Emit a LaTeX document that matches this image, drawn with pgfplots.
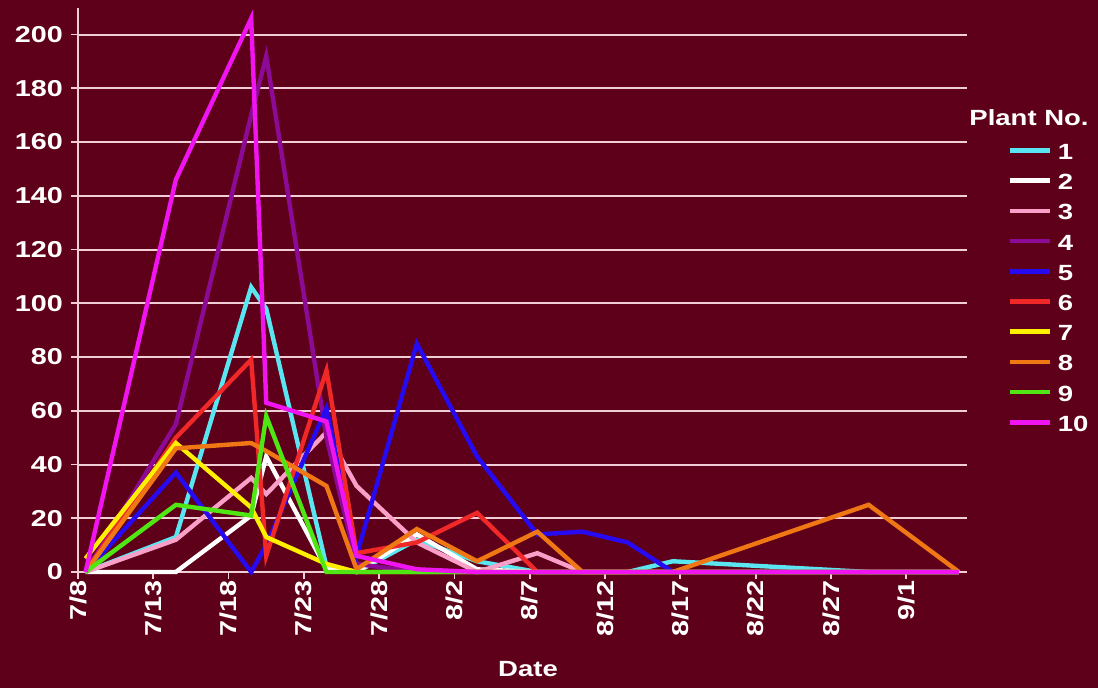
\documentclass[border=0pt]{standalone}
\usepackage{fontspec}
\setmainfont{Liberation Sans}[FakeStretch=1.25]
\usepackage{pgfplots}
\pgfplotsset{compat=1.18}
\definecolor{bg}{RGB}{94,0,26}
\definecolor{gridc}{RGB}{240,205,215}
\definecolor{c1}{RGB}{90,230,240}
\definecolor{c2}{RGB}{255,255,255}
\definecolor{c3}{RGB}{250,160,200}
\definecolor{c4}{RGB}{140,10,150}
\definecolor{c5}{RGB}{40,10,240}
\definecolor{c6}{RGB}{240,40,40}
\definecolor{c7}{RGB}{255,240,0}
\definecolor{c8}{RGB}{240,120,20}
\definecolor{c9}{RGB}{80,230,20}
\definecolor{c10}{RGB}{240,20,240}

% days since 7/8 (+0.5: points centred in the day)
\pgfplotstableread{
x     p1  p2  p3  p4  p5  p6  p7  p8  p9  p10
0.5   0   0   0   0   0   0   5   0   0   0
6.5   13  0   12  55  37  50  48  46  25  146
11.5  106 21  35  170 0   79  24  48  21  206
12.5  98  43  29  192 10  6   13  45  58  63
16.5  2   1   52  50  61  75  3   32  0   56
18.5  0   0   32  3   6   7   0   1   0   6
22.5  12  14  11  0   85  11  0   16  0   1
26.5  4   1   0   0   43  22  0   4   0   0
30.5  0   0   7   0   14  0   0   15  0   0
33.5  0   0   0   0   15  0   0   0   0   0
36.5  0   0   0   0   11  0   0   0   0   0
39.5  4   0   0   0   0   0   0   0   0   0
52.5  0   0   0   0   0   0   0   25  0   0
58.5  0   0   0   0   0   0   0   0   0   0
}\datatable

\begin{document}
\begin{tikzpicture}[x=1pt,y=1pt]
\fill[bg] (0,0) rectangle (1098,688);
\useasboundingbox (0,0) rectangle (1098,688);
\begin{axis}[
  at={(78pt,116pt)}, anchor=south west,
  scale only axis, width=888.5pt, height=564.3pt,
  xmin=0, xmax=59, ymin=0, ymax=210,
  axis x line*=bottom, axis y line*=left,
  axis line style={gridc, line width=1.8pt, -},
  xtick={0,5,...,55},
  xticklabels={7/8,7/13,7/18,7/23,7/28,8/2,8/7,8/12,8/17,8/22,8/27,9/1},
  ytick={0,20,...,200},
  ymajorgrids, grid style={gridc, line width=2pt},
  tick style={gridc, line width=1.8pt},
  tick align=outside, major tick length=7pt,
  /pgf/number format/assume math mode=true,
  ticklabel style={font=\bfseries\fontsize{23}{25}\selectfont, text=white},
  yticklabel style={anchor=east, inner sep=0pt, xshift=-8pt},
  xticklabel style={rotate=90, anchor=east, inner sep=0pt, xshift=-1pt},
  legend style={at={(axis description cs:1.046,0.7575)}, anchor=north west,
    draw=none, fill=none, text=white, inner sep=0pt, outer sep=0pt,
    font=\bfseries\fontsize{22}{24}\selectfont,
    row sep=15.2pt, column sep=6pt,
    nodes={inner sep=0pt, text height=15pt, text depth=0pt}},
  legend cell align=left,
  legend image code/.code={\draw[#1, line width=4.5pt] (0pt,1.5pt) -- (40pt,1.5pt);},
  every axis plot/.append style={line width=4.4pt, line join=miter},
  clip=false,
]
\addplot[c1] table[x=x, y=p1] {\datatable};
\addplot[c2] table[x=x, y=p2] {\datatable};
\addplot[c3] table[x=x, y=p3] {\datatable};
\addplot[c4] table[x=x, y=p4] {\datatable};
\addplot[c5] table[x=x, y=p5] {\datatable};
\addplot[c6] table[x=x, y=p6] {\datatable};
\addplot[c7] table[x=x, y=p7] {\datatable};
\addplot[c8] table[x=x, y=p8] {\datatable};
\addplot[c9] table[x=x, y=p9] {\datatable};
\addplot[c10] table[x=x, y=p10] {\datatable};
\legend{1,2,3,4,5,6,7,8,9,10}
\end{axis}
\node[text=white, font=\bfseries\fontsize{22}{24}\selectfont] at (1029,570) {Plant No.};
\node[text=white, font=\bfseries\fontsize{22}{24}\selectfont] at (528,19) {Date};
\end{tikzpicture}
\end{document}
